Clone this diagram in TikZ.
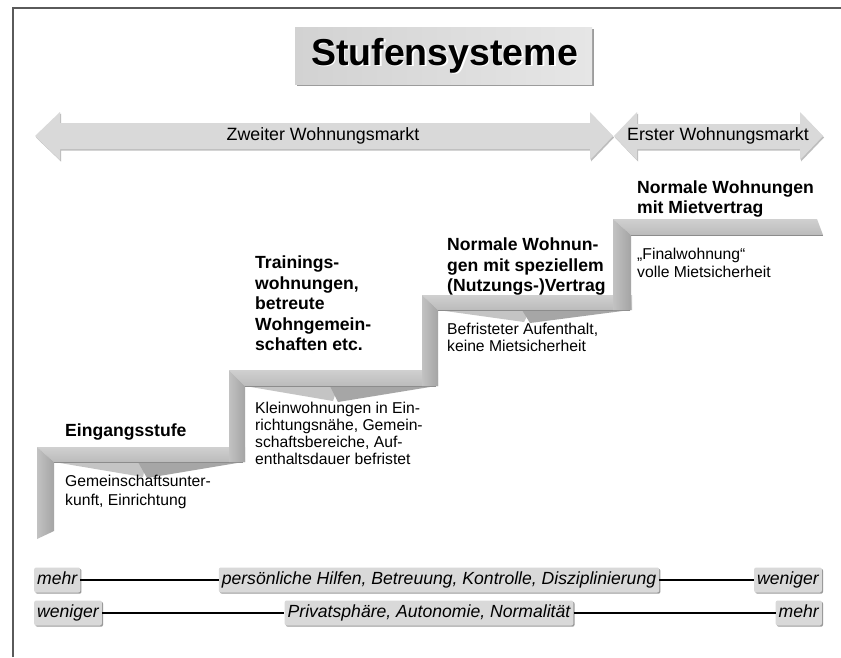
\documentclass[tikz,border=0pt]{standalone}
\usepackage{fontspec}
\setmainfont{Liberation Sans}
\usetikzlibrary{shadows}
\definecolor{framecol}{HTML}{5A5A5A}
\definecolor{titleleft}{HTML}{D2D2D2}
\definecolor{titleright}{HTML}{E6E6E6}
\definecolor{titleshade}{HTML}{9C9C9C}
\definecolor{arrowgray}{HTML}{D9D9D9}
\definecolor{arrowshade}{HTML}{BDBDBD}
\definecolor{riserlight}{HTML}{C2C2C2}
\definecolor{riserdark}{HTML}{A4A4A4}
\definecolor{treadlight}{HTML}{D0D0D0}
\definecolor{treaddark}{HTML}{BBBBBB}
\definecolor{wedgelight}{HTML}{C4C4C4}
\definecolor{wedgedark}{HTML}{A6A6A6}
\definecolor{edgegray}{HTML}{8C8C8C}
\definecolor{boxgray}{HTML}{D9D9D9}
\definecolor{boxshade}{HTML}{9A9A9A}
\tikzset{
  frameline/.style={draw=framecol, line width=2pt},
  arrowbody/.style={fill=arrowgray},
  arrowshadow/.style={fill=arrowshade},
  riser/.style={left color=riserlight, right color=riserdark},
  tread/.style={top color=treadlight, bottom color=treaddark},
  wedgeA/.style={fill=wedgelight},
  wedgeB/.style={fill=wedgedark},
  inneredge/.style={draw=edgegray, line width=0.8pt},
  titletext/.style={inner sep=0pt, font=\bfseries\fontsize{37.5}{42}\selectfont},
  arrowtext/.style={inner sep=0pt, font=\fontsize{17.8}{20}\selectfont},
  steplabel/.style={anchor=north west, align=left, inner sep=0pt, font=\bfseries\fontsize{17.6}{20.5}\selectfont},
  stepdesc/.style={anchor=north west, align=left, inner sep=0pt, font=\fontsize{15.7}{17.3}\selectfont},
  barbox/.style={fill=boxgray, rounded corners=2pt, text height=13pt, text depth=4pt, inner xsep=3pt, inner ysep=4pt,
    font=\itshape\fontsize{17.6}{19}\selectfont,
    drop shadow={shadow xshift=1.2pt, shadow yshift=-1.2pt, fill=boxshade, opacity=1}},
  barline/.style={draw=black, line width=2pt}
}
\begin{document}
\begin{tikzpicture}[x=1pt,y=-1pt]
\useasboundingbox (0,0) rectangle (841,657);
\fill[white] (0,0) rectangle (841,657);
\draw[frameline] (13,657) -- (13,8) -- (841,8);

% title
\fill[titleshade] (297,29) rectangle (594,86);
\shade[left color=titleleft, right color=titleright] (295,27) rectangle (592,84);
\node[titletext, text=white] (titleglow) at (446,57) {Stufensysteme};
\node[titletext] (title) at (444.5,55.5) {Stufensysteme};

% market arrows
\fill[arrowshadow, shift={(1,1.5)}] (35,136) -- (60,112) -- (60,123) -- (590,123) -- (590,112) -- (613,136) -- (590,160) -- (590,149) -- (60,149) -- (60,160) -- cycle;
\fill[arrowbody] (35,136) -- (60,112) -- (60,123) -- (590,123) -- (590,112) -- (613,136) -- (590,160) -- (590,149) -- (60,149) -- (60,160) -- cycle;
\fill[arrowshadow, shift={(1,1.5)}] (614,136) -- (637,112) -- (637,124) -- (800,124) -- (800,112) -- (823,136) -- (800,160) -- (800,149) -- (637,149) -- (637,160) -- cycle;
\fill[arrowbody] (614,136) -- (637,112) -- (637,124) -- (800,124) -- (800,112) -- (823,136) -- (800,160) -- (800,149) -- (637,149) -- (637,160) -- cycle;
\node[arrowtext] (zweiter) at (323,136) {Zweiter Wohnungsmarkt};
\node[arrowtext] (erster) at (718,136) {Erster Wohnungsmarkt};

% staircase: step 1
\shade[tread] (37,447) -- (245,447) -- (245,462) -- (54,462) -- cycle;
\shade[riser] (37,447) -- (54,462) -- (54,531) -- (37,539) -- cycle;
\fill[wedgeA] (54,462) -- (146,462) -- (143,477) -- cycle;
\fill[wedgeB] (138,462) -- (243,462) -- (147,478) -- cycle;
\draw[inneredge] (54,462) -- (243,462);
% step 2
\shade[tread] (229,370) -- (438,370) -- (438,386) -- (245,386) -- cycle;
\shade[riser] (229,370) -- (245,386) -- (245,462) -- (229,462) -- cycle;
\fill[wedgeA] (245,386) -- (338,386) -- (333,401) -- cycle;
\fill[wedgeB] (330,386) -- (436,386) -- (338,402) -- cycle;
\draw[inneredge] (245,386) -- (436,386);
% step 3
\shade[tread] (422,295) -- (632,295) -- (632,310) -- (438,310) -- cycle;
\shade[riser] (422,295) -- (438,310) -- (438,386) -- (422,386) -- cycle;
\fill[wedgeA] (438,310) -- (530,310) -- (524,322) -- cycle;
\fill[wedgeB] (522,310) -- (630,310) -- (530,323) -- cycle;
\draw[inneredge] (438,310) -- (630,310);
% step 4
\shade[tread] (613,219) -- (817,219) -- (823,235) -- (631,235) -- cycle;
\shade[riser] (613,219) -- (631,235) -- (631,310) -- (613,310) -- cycle;
\draw[inneredge] (631,235) -- (823,235);

% step labels
\node[steplabel] (s1) at (65,424) {Eingangsstufe};
\node[stepdesc, font=\fontsize{15.7}{19.5}\selectfont] (d1) at (65,474.5) {Gemeinschaftsunter-\\kunft, Einrichtung};
\node[steplabel] (s2) at (255,256) {Trainings-\\wohnungen,\\betreute\\Wohngemein-\\schaften etc.};
\node[stepdesc] (d2) at (255,401.5) {Kleinwohnungen in Ein-\\richtungsnähe, Gemein-\\schaftsbereiche, Auf-\\enthaltsdauer befristet};
\node[steplabel] (s3) at (447,238) {Normale Wohnun-\\gen mit speziellem\\(Nutzungs-)Vertrag};
\node[stepdesc] (d3) at (447,322.5) {Befristeter Aufenthalt,\\keine Mietsicherheit};
\node[steplabel] (s4) at (637,180.5) {Normale Wohnungen\\mit Mietvertrag};
\node[stepdesc, font=\fontsize{15.7}{18}\selectfont] (d4) at (637,248) {„Finalwohnung“\\volle Mietsicherheit};

% bottom scales
\node[barbox, anchor=west] (r1l) at (34,580) {mehr};
\node[barbox] (r1m) at (439,580) {persönliche Hilfen, Betreuung, Kontrolle, Disziplinierung};
\node[barbox, anchor=east] (r1r) at (822,580) {weniger};
\draw[barline] (r1l) -- (r1m);
\draw[barline] (r1m) -- (r1r);
\node[barbox, anchor=west] (r2l) at (34,613) {weniger};
\node[barbox] (r2m) at (429,613) {Privatsphäre, Autonomie, Normalität};
\node[barbox, anchor=east] (r2r) at (822,613) {mehr};
\draw[barline] (r2l) -- (r2m);
\draw[barline] (r2m) -- (r2r);
\end{tikzpicture}
\end{document}
